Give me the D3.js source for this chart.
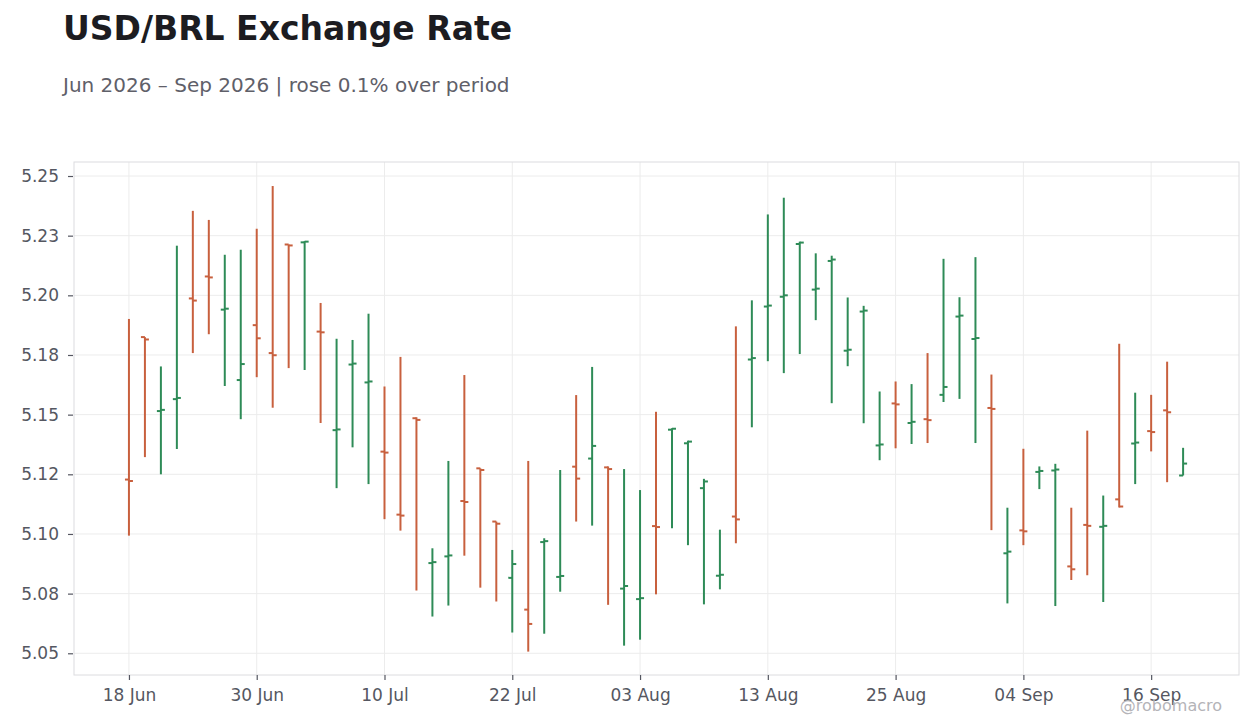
<!DOCTYPE html>
<html>
<head>
<meta charset="utf-8">
<script src="https://cdn.jsdelivr.net/npm/d3@7"></script>
<style>
  body { margin: 0; background: #fff; }
  svg { display: block; font-family: "DejaVu Sans", sans-serif; }
</style>
</head>
<body>
<svg id="chart" width="1260" height="728"></svg>
<script>
// trading days (Jun 18 – Sep 18 2026)
const dates = [
  "2026-06-18","2026-06-19","2026-06-22","2026-06-23","2026-06-24","2026-06-25","2026-06-26","2026-06-29","2026-06-30",
  "2026-07-01","2026-07-02","2026-07-03","2026-07-06","2026-07-07","2026-07-08","2026-07-09","2026-07-10",
  "2026-07-13","2026-07-14","2026-07-15","2026-07-16","2026-07-17","2026-07-20","2026-07-21","2026-07-22",
  "2026-07-23","2026-07-24","2026-07-27","2026-07-28","2026-07-29","2026-07-30","2026-07-31","2026-08-03",
  "2026-08-04","2026-08-05","2026-08-06","2026-08-07","2026-08-10","2026-08-11","2026-08-12","2026-08-13",
  "2026-08-14","2026-08-17","2026-08-18","2026-08-19","2026-08-20","2026-08-21","2026-08-24","2026-08-25",
  "2026-08-26","2026-08-27","2026-08-28","2026-08-31","2026-09-01","2026-09-02","2026-09-03","2026-09-04",
  "2026-09-07","2026-09-08","2026-09-09","2026-09-10","2026-09-11","2026-09-14","2026-09-15","2026-09-16",
  "2026-09-17","2026-09-18"
];

const open = [
  5.1228,5.1825,5.1515,5.1565,5.1987,5.2079,5.1940,5.1645,5.1875,5.1758,5.2213,5.2222,5.1848,5.1435,5.1710,5.1635,5.1345,
  5.1081,5.1485,5.0878,5.0906,5.1138,5.1275,5.1052,5.0816,5.0683,5.0966,5.0820,5.1282,5.1316,5.1279,5.0771,5.0727,
  5.1033,5.1437,5.1380,5.1192,5.0825,5.1073,5.1731,5.1953,5.1994,5.2215,5.2024,5.2144,5.1768,5.1932,5.1371,5.1547,
  5.1465,5.1481,5.1583,5.1911,5.1817,5.1528,5.0919,5.1015,5.1260,5.1266,5.0864,5.1038,5.1030,5.1145,5.1379,5.1431,
  5.1518,5.1245
];
const high = [
  5.1901,5.1825,5.1702,5.2208,5.2354,5.2316,5.2170,5.2191,5.2279,5.2458,5.2213,5.2227,5.1968,5.1818,5.1813,5.1923,5.1618,
  5.1742,5.1489,5.0940,5.1306,5.1666,5.1275,5.1052,5.0933,5.1306,5.0982,5.1268,5.1582,5.1700,5.1283,5.1272,5.1184,
  5.1512,5.1443,5.1391,5.1231,5.1018,5.1870,5.1979,5.2339,5.2409,5.2225,5.2176,5.2166,5.1991,5.1956,5.1597,5.1639,
  5.1628,5.1758,5.2153,5.1992,5.2160,5.1668,5.1110,5.1357,5.1283,5.1294,5.1110,5.1433,5.1161,5.1797,5.1592,5.1583,
  5.1722,5.1361
];
const low = [
  5.0993,5.1322,5.1250,5.1356,5.1758,5.1837,5.1620,5.1481,5.1657,5.1529,5.1695,5.1687,5.1465,5.1192,5.1363,5.1209,5.1062,
  5.1014,5.0763,5.0654,5.0700,5.0909,5.0775,5.0717,5.0587,5.0507,5.0582,5.0758,5.1052,5.1035,5.0703,5.0532,5.0557,
  5.0747,5.1024,5.0953,5.0705,5.0768,5.0961,5.1447,5.1724,5.1674,5.1754,5.1896,5.1548,5.1703,5.1464,5.1309,5.1359,
  5.1377,5.1381,5.1553,5.1566,5.1381,5.1016,5.0709,5.0953,5.1188,5.0698,5.0807,5.0827,5.0715,5.1111,5.1209,5.1346,
  5.1217,5.1245
];
const close = [
  5.1222,5.1815,5.1520,5.1570,5.1978,5.2075,5.1944,5.1712,5.1820,5.1749,5.2209,5.2225,5.1845,5.1438,5.1714,5.1639,5.1341,
  5.1077,5.1478,5.0882,5.0910,5.1134,5.1268,5.1043,5.0874,5.0623,5.0970,5.0824,5.1232,5.1369,5.1272,5.0782,5.0731,
  5.1029,5.1441,5.1387,5.1220,5.0829,5.1061,5.1737,5.1957,5.2000,5.2221,5.2028,5.2150,5.1772,5.1936,5.1375,5.1543,
  5.1470,5.1477,5.1616,5.1915,5.1821,5.1524,5.0926,5.1011,5.1264,5.1270,5.0852,5.1034,5.1034,5.1115,5.1383,5.1427,
  5.1510,5.1295
];

const yTicks = [5.05, 5.075, 5.10, 5.125, 5.15, 5.175, 5.20, 5.225, 5.25];
const yTickLabels = ["5.05","5.08","5.10","5.12","5.15","5.18","5.20","5.23","5.25"];
const xTickIdx = [0, 8, 16, 24, 32, 40, 48, 56, 64];

const UP = "#2e8b57", DOWN = "#c8603e";

const svg = d3.select("#chart");
const L = 74, R = 1239, T = 162, B = 675;

const parse = d3.timeParse("%Y-%m-%d");
const fmt = d3.timeFormat("%d %b");

const x = d3.scaleLinear().domain([-3.44, 69.5]).range([L, R]);
const y = d3.scaleLinear().domain([5.0409, 5.25587]).range([B, T]);

// title block
svg.append("text").attr("x", 63).attr("y", 40)
  .attr("font-size", 33).attr("font-weight", "bold").attr("fill", "#1c1c21")
  .text("USD/BRL Exchange Rate");
svg.append("text").attr("x", 63).attr("y", 92)
  .attr("font-size", 20).attr("fill", "#5f6069")
  .text("Jun 2026 \u2013 Sep 2026 | rose 0.1% over period");

// grid
const grid = svg.append("g");
grid.selectAll(".gy").data(yTicks).join("line")
  .attr("x1", L).attr("x2", R)
  .attr("y1", d => y(d)).attr("y2", d => y(d))
  .attr("stroke", "#ececec").attr("stroke-width", 1);
grid.selectAll(".gx").data(xTickIdx).join("line")
  .attr("x1", d => x(d)).attr("x2", d => x(d))
  .attr("y1", T).attr("y2", B)
  .attr("stroke", "#ececec").attr("stroke-width", 1);

svg.append("rect").attr("x", L).attr("y", T).attr("width", R - L).attr("height", B - T)
  .attr("fill", "none").attr("stroke", "#dcdcdf").attr("stroke-width", 1);

// axes
const yAxis = d3.axisLeft(y).tickValues(yTicks)
  .tickFormat((d, i) => yTickLabels[i]).tickSize(5).tickPadding(9);
const gy = svg.append("g").attr("transform", `translate(${L - 1},0)`).call(yAxis);
gy.select(".domain").remove();
gy.selectAll(".tick line").attr("stroke", "#555761").attr("stroke-width", 1.2);
gy.selectAll(".tick text").attr("font-size", 17).attr("fill", "#555761")
  .attr("font-family", "DejaVu Sans, sans-serif");

const xAxis = d3.axisBottom(x).tickValues(xTickIdx)
  .tickFormat(i => fmt(parse(dates[i]))).tickSize(5).tickPadding(9);
const gx = svg.append("g").attr("transform", `translate(0,${B})`).call(xAxis);
gx.select(".domain").remove();
gx.selectAll(".tick line").attr("stroke", "#555761").attr("stroke-width", 1.2);
gx.selectAll(".tick text").attr("font-size", 17).attr("fill", "#555761")
  .attr("font-family", "DejaVu Sans, sans-serif");

// OHLC bars
const bars = svg.append("g").selectAll("g").data(dates.map((d, i) => i)).join("g")
  .attr("stroke", i => close[i] >= open[i] ? UP : DOWN)
  .attr("stroke-width", 2);
bars.append("line")
  .attr("x1", i => x(i)).attr("x2", i => x(i))
  .attr("y1", i => y(high[i])).attr("y2", i => y(low[i]));
bars.append("line")
  .attr("x1", i => x(i) - 4).attr("x2", i => x(i))
  .attr("y1", i => y(open[i])).attr("y2", i => y(open[i]));
bars.append("line")
  .attr("x1", i => x(i)).attr("x2", i => x(i) + 4)
  .attr("y1", i => y(close[i])).attr("y2", i => y(close[i]));

// watermark
svg.append("text").attr("x", 1222).attr("y", 711).attr("text-anchor", "end")
  .attr("font-size", 16).attr("fill", "#b4b4b8")
  .text("@robomacro");
</script>
</body>
</html>
